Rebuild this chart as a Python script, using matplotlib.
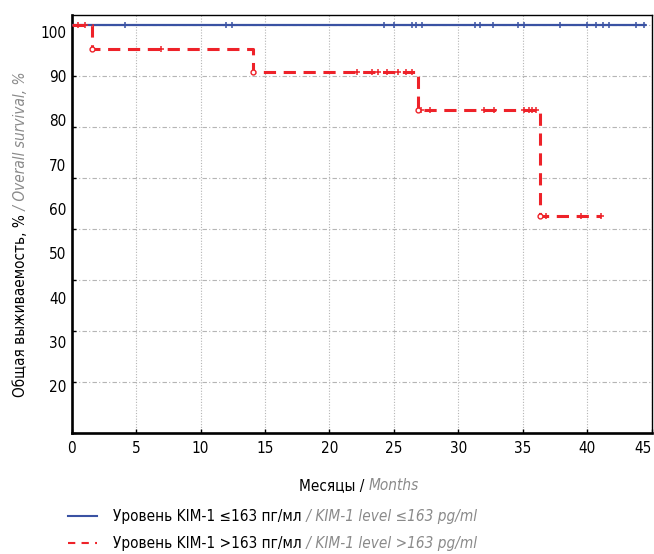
import matplotlib
matplotlib.use('Agg')
import matplotlib.pyplot as plt
from matplotlib.lines import Line2D
import numpy as np

plt.rcParams['font.family'] = ['DejaVu Sans']
plt.rcParams['font.stretch'] = 'condensed'
plt.rcParams['font.size'] = 11

# KIM-1 <=163: no events, censored months
low_censor = [4.1, 12.0, 12.4, 24.2, 25.0, 26.4, 26.7, 27.2, 31.3, 31.7, 32.7,
    34.6, 35.1, 37.9, 40.0, 40.7, 41.2, 41.7, 43.8, 44.4]
low_end = 44.5
# KIM-1 >163: step times / survival %, censored months
high_times = [0, 1.6, 14.1, 26.9, 36.3]
high_surv = [100, 95.2, 90.7, 83.3, 62.5]
high_censor = [0.5, 1.0, 6.9, 22.1, 23.3, 23.8, 24.5, 25.3, 25.9, 26.4, 27.1,
    27.8, 32.0, 32.8, 35.1, 35.5, 35.7, 36.0, 36.8, 39.5, 41.05]
high_end = 41.05
xticks = list(range(0, 46, 5))
yticks = list(range(20, 101, 10))

# fig config
c_blue = '#3a52a3'
c_red = '#ee2229'
c_gray = '#8a8a8a'
W, H = 654, 554
fsize = 11


def step_level(times, surv, t):
    i = np.searchsorted(times, t, side='right') - 1
    return surv[i]


fig = plt.figure(figsize=(W/100, H/100), dpi=100)
ax = fig.add_axes([71.7/W, 1-433/H, 580/W, 418/H])

# low group
ax.plot([0, low_end], [100, 100], color=c_blue, lw=1.6, zorder=3)
ax.plot(low_censor, [100]*len(low_censor), ls='none', marker='+', ms=5, mew=1.1,
    color=c_blue, zorder=4)
# high group
x_step = high_times + [high_end]
y_step = high_surv + [high_surv[-1]]
ax.step(x_step, y_step, where='post', color=c_red, lw=2.2,
    linestyle=(0, (4, 2.5)), zorder=5)
y_cens = [step_level(high_times, high_surv, t) for t in high_censor]
ax.plot(high_censor, y_cens, ls='none', marker='+', ms=5, mew=1.1, color=c_red, zorder=6)
ax.plot(high_times[1:], high_surv[1:], ls='none', marker='o', ms=3.5, mew=1,
    mfc='white', mec=c_red, zorder=7)

ax.set_xlim(0, 45)
ax.set_ylim(20, 101.9)
ax.set_xticks(xticks)
ax.set_yticks(yticks)
ax.tick_params(axis='both', direction='in', length=3, width=1)
ax.tick_params(axis='x', pad=6, labelsize=fsize)
ax.tick_params(axis='y', labelleft=False)
ax.get_xticklabels()[-1].set_ha('right')
ax.xaxis.grid(True, color='#b5b5b5', lw=0.8, linestyle=(0, (1, 1.5)))
ax.yaxis.grid(True, color='#b5b5b5', lw=0.8, linestyle=(0, (4, 2, 1, 2)))
ax.set_axisbelow(True)
for side in ['left', 'bottom']:
    ax.spines[side].set_linewidth(1.9)
for side in ['top', 'right']:
    ax.spines[side].set_linewidth(1.0)

# y tick labels as drawn in the reference (offset from grid)
ax2 = ax.twinx()
ax2.set_ylim(9.4, 103.8)
ax2.set_yticks(yticks)
ax2.yaxis.tick_left()
ax2.tick_params(axis='y', length=0, pad=4, labelsize=fsize)
for side in ax2.spines:
    ax2.spines[side].set_visible(False)

# x label
t1 = fig.text(299/W, 1-490/H, 'Месяцы / ', ha='left', va='baseline', color='black',
    fontsize=fsize)
ax.annotate('Months', xy=(1, 0), xycoords=t1, ha='left', va='bottom',
    color=c_gray, style='italic', fontsize=fsize, annotation_clip=False)

# y label
t1 = fig.text(21/W, 1-397/H, 'Общая выживаемость, %', rotation=90, ha='center',
    va='bottom', color='black', fontsize=fsize)
ax.annotate(' / Overall survival, %', xy=(0.5, 1), xycoords=t1, rotation=90,
    ha='center', va='bottom', color=c_gray, style='italic', fontsize=fsize,
    annotation_clip=False)

# legend
leg = [
    [c_blue, '-', 'Уровень KIM-1 ≤163 пг/мл', ' / KIM-1 level ≤163 pg/ml', 515.7, 521.5],
    [c_red, (0, (3.5, 3)), 'Уровень KIM-1 >163 пг/мл', ' / KIM-1 level >163 pg/ml', 542.5, 548.0],
]
for color, ls, lab_ru, lab_en, y_line, y_base in leg:
    fig.add_artist(Line2D([68/W, 97/W], [1-y_line/H]*2, color=color, lw=1.5, linestyle=ls))
    t1 = fig.text(113/W, 1-y_base/H, lab_ru, ha='left', va='baseline', color='black',
        fontsize=fsize)
    ax.annotate(lab_en, xy=(1, 0), xycoords=t1, ha='left', va='bottom',
        color=c_gray, style='italic', fontsize=fsize, annotation_clip=False)

fig.savefig('out.png', dpi=100)
